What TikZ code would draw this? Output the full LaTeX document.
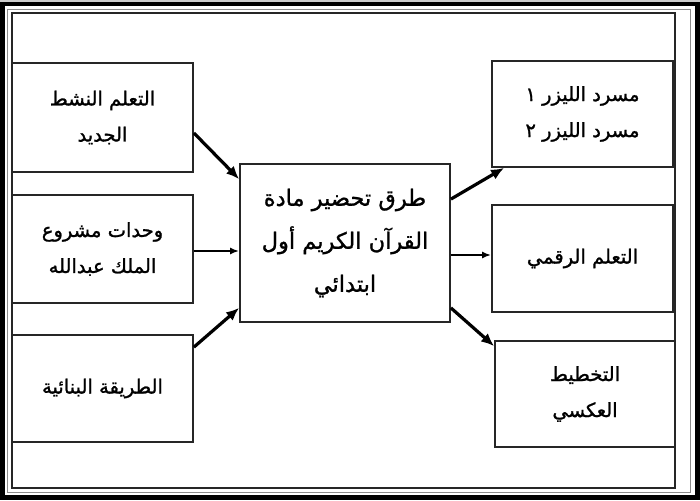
\documentclass[tikz,border=0pt]{standalone}
\usepackage{fontspec}
\usepackage{tikz}
\usetikzlibrary{arrows.meta}
\usetikzlibrary{positioning}
\newfontfamily\arabicfont[Script=Arabic, FakeBold=1.2]{DejaVu Sans}
\TeXXeTstate=1
\tikzstyle{every node}+=[inner sep=0pt]
\tikzstyle{block} = [rectangle, draw=black!85, line width=1.8pt, fill=white, align=center, font=\arabicfont\fontsize{19.5}{36}\selectfont, minimum width=181pt, minimum height=107pt]
\tikzstyle{line} = [draw, -{Latex[length=13pt, width=11pt]}, line width=3.2pt]
\tikzstyle{thinline} = [draw, -{Latex[length=9pt, width=7pt]}, line width=1.8pt]

\begin{document}
\begin{tikzpicture}[x=1pt, y=-1pt, node distance = 240pt, auto]
            % Frame
            \fill [white] (0,0) rectangle (700,500);
            \fill [black!20] (0,0) rectangle (700,2);
            \draw [line width=4.5pt] (2.5,4.2) rectangle (697.5,497.5);
            \draw [black!45, line width=0.8pt] (7.5,9) rectangle (690,492);
            \draw [black!85, line width=1.8pt] (11.8,13.2) rectangle (675,488);
            \useasboundingbox (0,0) rectangle (700,500);
            % Place nodes
            \node [block, minimum width=210pt, minimum height=158pt, font=\arabicfont\fontsize{22.5}{43}\selectfont] (mid) at (345,243)
              {\beginR طرق تحضير مادة\endR\\\beginR القرآن الكريم أول\endR\\\beginR ابتدائي\endR};
            \node [block, left of=mid, node distance=242.5pt, yshift=125.5pt, minimum height=109pt] (l1)
              {\beginR التعلم النشط\endR\\\beginR الجديد\endR};
            \node [block, left of=mid, node distance=242.5pt, yshift=-6pt, minimum height=108pt] (l2)
              {\beginR وحدات مشروع\endR\\\beginR الملك عبدالله\endR};
            \node [block, left of=mid, node distance=242.5pt, yshift=-145.5pt] (l3)
              {\beginR الطريقة البنائية\endR};
            \node [block, right of=mid, node distance=237.5pt, yshift=129pt, minimum height=106pt] (r1)
              {\beginR مسرد الليزر ١\endR\\\beginR مسرد الليزر ٢\endR};
            \node [block, right of=mid, node distance=237.5pt, yshift=-15.5pt] (r2)
              {\beginR التعلم الرقمي\endR};
            \node [block, right of=mid, node distance=240pt, yshift=-151pt, minimum width=180pt, minimum height=106pt] (r3)
              {\beginR التخطيط\endR\\\beginR العكسي\endR};
            % Draw edges
            \path [line] ([yshift=-15.5pt]l1.east) -- ([yshift=-16pt]mid.north west);
            \path [thinline] ([yshift=-2pt]l2.east) -- ([yshift=-2pt]l2.east -| mid.west);
            \path [line] ([yshift=-13pt]l3.north east) -- ([yshift=15pt]mid.south west);
            \path [line] ([yshift=-36pt]mid.north east) -- ([xshift=13pt]r1.south west);
            \path [thinline] ([yshift=3.5pt]r2.west -| mid.east) -- ([yshift=3.5pt]r2.west);
            \path [line] ([yshift=15pt]mid.south east) -- ([yshift=-6pt]r3.north west);
          \end{tikzpicture}
\end{document}
